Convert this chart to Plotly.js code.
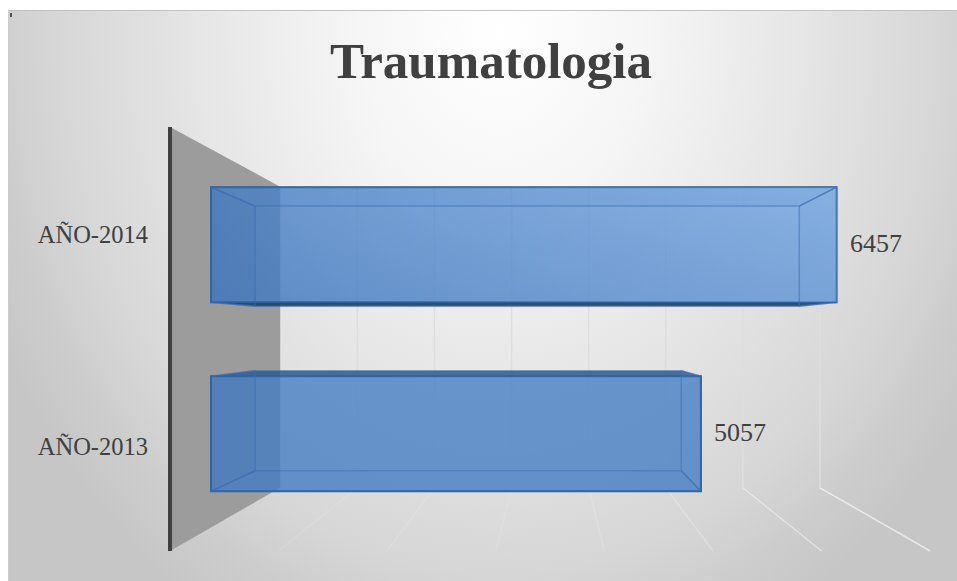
<!DOCTYPE html>
<html><head><meta charset="utf-8">
<script src="https://cdn.plot.ly/plotly-3.0.1.min.js"></script>
<style>
html,body{margin:0;padding:0;background:#fff;width:957px;height:581px;overflow:hidden}
#bg{position:absolute;left:8px;top:10px;width:949px;height:571px;box-sizing:border-box;border-top:1px solid #c4c4c4;border-left:1px solid #cccccc;
background:radial-gradient(ellipse 560px 680px at 490px 20px,#ffffff 0%,#f6f6f6 25%,#e5e5e5 55%,#d6d6d6 80%,#cdcdcd 90%,#c6c6c6 100%)}
#mark{position:absolute;left:10px;top:13px;width:2px;height:4px;background:#555}
#chart{position:absolute;left:0;top:0;width:957px;height:581px}
</style></head><body>
<div id="bg"></div><div id="mark"></div><div id="chart"></div>
<script>
// data
const categories = ['AÑO-2013', 'AÑO-2014'];
const values = [5057, 6457];
const gridValues = [1000, 2000, 3000, 4000, 5000, 6000, 7000];
const floorAlpha = [0.10, 0.10, 0.12, 0.14, 0.22, 0.42, 0.6];
const chartTitle = 'Traumatologia';

// scene: a box in perspective around a vanishing point
const W = 957, H = 581, ML = 149;
const VP = {x: 550, y: 333};
const FRONT = {x0: 170, perUnit: 0.1086, yCat0: 446, perCat: 212, top: 127, bottom: 551};
const DEPTH = {wall: 0.71, barFront: 0.892, barBack: 0.776};
const BAR_H_FRONT = 129; // bar thickness on the front plane, px

// axis mapping: x axis is the value scale at the bar's front plane, y axis the category scale of the front plane
const xScale = FRONT.perUnit * DEPTH.barFront;
const xZeroPx = VP.x + DEPTH.barFront * (FRONT.x0 - VP.x);
const xRange = [(ML - xZeroPx) / xScale, (W - xZeroPx) / xScale];
const yRange = [(FRONT.yCat0 - H) / FRONT.perCat, FRONT.yCat0 / FRONT.perCat];
const axX = px => (px - xZeroPx) / xScale;
const axY = py => (FRONT.yCat0 - py) / FRONT.perCat;
const projX = (v, s) => axX(VP.x + s * (FRONT.x0 + v * FRONT.perUnit - VP.x));
const projYpx = (py, s) => VP.y + s * (py - VP.y);
const projY = (py, s) => axY(projYpx(py, s));
const catPx = i => FRONT.yCat0 - i * FRONT.perCat;

const shapes = [];
// side wall
const poly = pts => 'M' + pts.map(p => p.join(',')).join('L') + 'Z';
shapes.push({type:'path', layer:'below', xref:'x', yref:'y', line:{width:0}, fillcolor:'#9c9c9c',
  path: poly([[projX(0,1),projY(FRONT.top,1)],[projX(0,DEPTH.wall),projY(FRONT.top,DEPTH.wall)],
              [projX(0,DEPTH.wall),projY(FRONT.bottom,DEPTH.wall)],[projX(0,1),projY(FRONT.bottom,1)]])});
// gridlines on back wall and floor
gridValues.forEach((v,i) => {
  shapes.push({type:'line', layer:'below', xref:'x', yref:'y', line:{color:'#dedede', width:1.5},
    x0:projX(v,DEPTH.wall), x1:projX(v,DEPTH.wall), y0:projY(FRONT.top,DEPTH.wall), y1:projY(FRONT.bottom,DEPTH.wall)});
  shapes.push({type:'line', layer:'below', xref:'x', yref:'y', line:{color:'rgba(255,255,255,'+floorAlpha[i]+')', width:1.5},
    x0:projX(v,DEPTH.wall), x1:projX(v,1), y0:projY(FRONT.bottom,DEPTH.wall), y1:projY(FRONT.bottom,1)});
});
// category axis line
shapes.push({type:'line', layer:'below', xref:'x', yref:'y', line:{color:'#404040', width:4},
  x0:projX(0,1), x1:projX(0,1), y0:projY(FRONT.top,1), y1:projY(FRONT.bottom,1)});

const traces = [];
const barY = categories.map((c,i) => projY(catPx(i), DEPTH.barFront));
const barW = BAR_H_FRONT * DEPTH.barFront / FRONT.perCat;
traces.push({type:'bar', orientation:'h', x:values, y:barY, width:barW, hoverinfo:'skip',
  marker:{color:'rgba(68,124,196,0.78)', line:{color:'#2d5f98', width:2}}});

const faceLine = 'rgba(58,110,180,0.5)';
function face(pts, fill, lineCol, grad) {
  const t = {type:'scatter', mode:'lines', x:pts.map(p=>p[0]).concat(pts[0][0]), y:pts.map(p=>p[1]).concat(pts[0][1]),
    fill:'toself', fillcolor:fill, line:{color:lineCol, width:1.5}, hoverinfo:'skip', showlegend:false};
  if (grad) { t.fillgradient = grad; }
  traces.push(t);
}
values.forEach((v,i) => {
  const mid = catPx(i), top = mid - BAR_H_FRONT/2, bot = mid + BAR_H_FRONT/2;
  const fs = DEPTH.barFront, bs = DEPTH.barBack;
  const a = [projX(0,fs),projY(top,fs)], b=[projX(v,fs),projY(top,fs)], c=[projX(v,fs),projY(bot,fs)], d=[projX(0,fs),projY(bot,fs)];
  const A = [projX(0,bs),projY(top,bs)], B=[projX(v,bs),projY(top,bs)], C=[projX(v,bs),projY(bot,bs)], D=[projX(0,bs),projY(bot,bs)];
  // lightening towards the right on the upper bar
  if (i === 1) {
    face([a,b,c,d], 'rgba(255,255,255,0)', 'rgba(0,0,0,0)',
      {type:'horizontal', colorscale:[[0,'rgba(175,210,250,0)'],[1,'rgba(175,210,250,0.5)']]});
    face([a,b,c,d], 'rgba(255,255,255,0)', 'rgba(0,0,0,0)',
      {type:'vertical', colorscale:[[0,'rgba(50,100,170,0.18)'],[1,'rgba(50,100,170,0)']]});
  }
  // faces: top, bottom, left, right
  face([a,b,B,A], i===1 ? 'rgba(70,128,200,0.08)' : 'rgba(48,92,150,0.88)', faceLine);
  face([d,c,C,D], i===1 ? 'rgba(35,65,105,0.92)' : 'rgba(70,128,200,0.08)', faceLine);
  face([a,A,D,d], 'rgba(60,110,180,0.10)', faceLine);
  face([b,B,C,c], 'rgba(90,150,220,0.08)', faceLine);
});

const annotations = values.map((v,i) => ({x:v, y:barY[i], xref:'x', yref:'y', text:String(v), showarrow:false,
  xanchor:'left', yanchor:'middle', xshift:11, yshift:1,
  font:{family:'Liberation Serif, serif', size:26, color:'#404040'}}));

const layout = {
  width:W, height:H, margin:{l:ML, r:0, t:0, b:0, pad:0}, autosize:false,
  paper_bgcolor:'rgba(0,0,0,0)', plot_bgcolor:'rgba(0,0,0,0)', showlegend:false, barmode:'overlay',
  title:{text:chartTitle, xref:'container', yref:'container', x:491/W, y:1-60/H, xanchor:'center', yanchor:'middle',
    font:{family:'Liberation Serif, serif', size:51, weight:'bold', color:'#404040'}},
  xaxis:{range:xRange, visible:false, fixedrange:true},
  yaxis:{range:yRange, fixedrange:true, showgrid:false, zeroline:false, showline:false, ticks:'',
    tickmode:'array', tickvals:categories.map((c,i)=>i), ticktext:categories,
    tickfont:{family:'Liberation Serif, serif', size:24.5, color:'#404040'}},
  shapes, annotations
};
Plotly.newPlot('chart', traces, layout, {displayModeBar:false, staticPlot:true});
</script></body></html>
